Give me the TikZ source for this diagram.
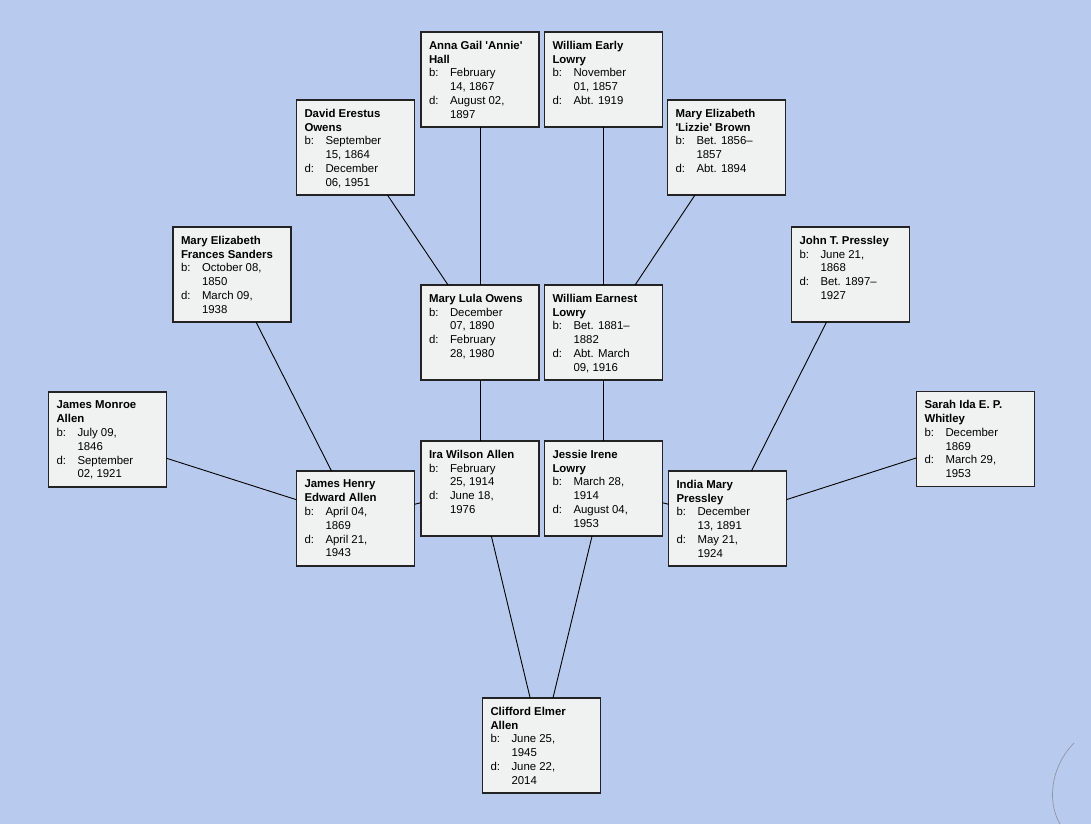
\documentclass[tikz,border=0pt]{standalone}
\usepackage{fontspec}
\newfontfamily\chartfont{Liberation Sans}
\definecolor{pagebg}{RGB}{184,203,238}
\definecolor{cardfill}{RGB}{239,242,241}
\definecolor{cardline}{RGB}{35,35,35}
% label column ("b:", "d:") and the hanging indent of wrapped dates
\newcommand\lbl[1]{\makebox[21pt][l]{#1}}
\newcommand\ind{\hspace*{21pt}}
\newcommand\card[1]{\parbox[t][77pt][t]{102pt}{\raggedright\chartfont\fontsize{11.4}{13.8}\selectfont #1}}
\tikzset{
  person/.style={draw=cardline, fill=cardfill, line width=1.1pt, rectangle,
    inner xsep=8pt, inner ysep=9pt, outer sep=0pt, anchor=center},
  link/.style={draw=black, line width=0.9pt}
}
\begin{document}
\begin{tikzpicture}[x=1pt,y=1pt]
\fill[pagebg] (0,0) rectangle (1091,-824);
\useasboundingbox (0,0) rectangle (1091,-824);
% page edge curl in the lower right corner
\draw[gray!70!pagebg, line width=0.7pt] (1074,-743) .. controls (1052,-765) and (1046,-800) .. (1060,-824);

% great-grandparents
\node[person] (anna) at (480,-79.5) {\card{\textbf{Anna Gail 'Annie'\\Hall}\\\lbl{b:}February\\\ind 14, 1867\\\lbl{d:}August 02,\\\ind 1897}};
\node[person] (wearly) at (603.5,-79.5) {\card{\textbf{William Early\\Lowry}\\\lbl{b:}November\\\ind 01, 1857\\\lbl{d:}Abt. 1919}};
\node[person] (david) at (355.5,-147.5) {\card{\textbf{David Erestus\\Owens}\\\lbl{b:}September\\\ind 15, 1864\\\lbl{d:}December\\\ind 06, 1951}};
\node[person] (lizzie) at (726.5,-147.5) {\card{\textbf{Mary Elizabeth\\'Lizzie' Brown}\\\lbl{b:}Bet. 1856–\\\ind 1857\\\lbl{d:}Abt. 1894}};
\node[person] (sanders) at (232,-274.5) {\card{\textbf{Mary Elizabeth\\Frances Sanders}\\\lbl{b:}October 08,\\\ind 1850\\\lbl{d:}March 09,\\\ind 1938}};
\node[person] (jpress) at (850.5,-274.5) {\card{\textbf{John T. Pressley}\\\lbl{b:}June 21,\\\ind 1868\\\lbl{d:}Bet. 1897–\\\ind 1927}};
\node[person] (jmonroe) at (107.5,-439.5) {\card{\textbf{James Monroe\\Allen}\\\lbl{b:}July 09,\\\ind 1846\\\lbl{d:}September\\\ind 02, 1921}};
\node[person] (sarah) at (975.5,-439) {\card{\textbf{Sarah Ida E. P.\\Whitley}\\\lbl{b:}December\\\ind 1869\\\lbl{d:}March 29,\\\ind 1953}};

% grandparents
\node[person] (lula) at (480,-332.5) {\card{\textbf{Mary Lula Owens}\\\lbl{b:}December\\\ind 07, 1890\\\lbl{d:}February\\\ind 28, 1980}};
\node[person] (wearnest) at (603.5,-332.5) {\card{\textbf{William Earnest\\Lowry}\\\lbl{b:}Bet. 1881–\\\ind 1882\\\lbl{d:}Abt. March\\\ind 09, 1916}};
\node[person] (jhenry) at (355.5,-518.5) {\card{\textbf{James Henry\\Edward Allen}\\\lbl{b:}April 04,\\\ind 1869\\\lbl{d:}April 21,\\\ind 1943}};
\node[person] (india) at (727.5,-518.5) {\card{\textbf{India Mary\\Pressley}\\\lbl{b:}December\\\ind 13, 1891\\\lbl{d:}May 21,\\\ind 1924}};

% parents
\node[person] (ira) at (480,-488.5) {\card{\textbf{Ira Wilson Allen}\\\lbl{b:}February\\\ind 25, 1914\\\lbl{d:}June 18,\\\ind 1976}};
\node[person] (jessie) at (603.5,-488.5) {\card{\textbf{Jessie Irene\\Lowry}\\\lbl{b:}March 28,\\\ind 1914\\\lbl{d:}August 04,\\\ind 1953}};

% root person
\node[person] (clifford) at (541.5,-745.5) {\card{\textbf{Clifford Elmer\\Allen}\\\lbl{b:}June 25,\\\ind 1945\\\lbl{d:}June 22,\\\ind 2014}};

% family links
\draw[link] (anna) -- (lula);
\draw[link] (david) -- (lula);
\draw[link] (wearly) -- (wearnest);
\draw[link] (lizzie) -- (wearnest);
\draw[link] (lula) -- (ira);
\draw[link] (wearnest) -- (jessie);
\draw[link] (sanders) -- (jhenry);
\draw[link] (jmonroe) -- (jhenry);
\draw[link] (jpress) -- (india);
\draw[link] (sarah) -- (india);
\draw[link] (jhenry) -- (ira);
\draw[link] (jessie) -- (india);
\draw[link] (ira) -- (clifford);
\draw[link] (jessie) -- (clifford);
\end{tikzpicture}
\end{document}
